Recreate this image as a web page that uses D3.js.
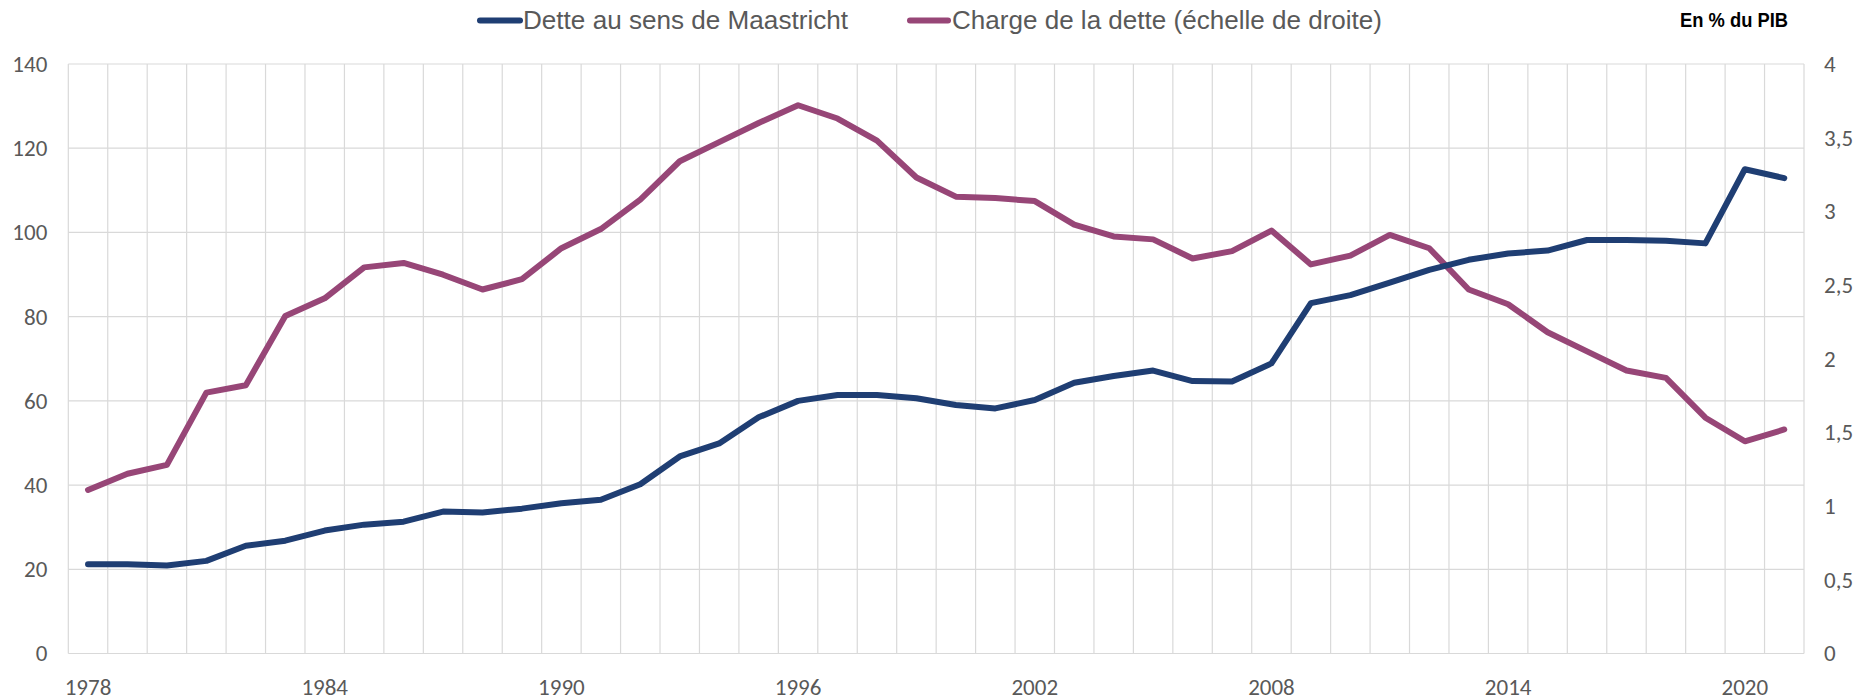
<!DOCTYPE html>
<html>
<head>
<meta charset="utf-8">
<script src="https://cdn.jsdelivr.net/npm/d3@7"></script>
<style>
  body { margin: 0; background: #fff; }
  .tick text { font-family: Carlito, Calibri, Lato, sans-serif; font-size: 23px; fill: #595959; }
</style>
</head>
<body>
<div id="chart"></div>
<script>
const width = 1870;
const height = 700;

// data (en % du PIB)
const years = d3.range(1978, 2022);
const detteMaastricht = [
    21.2, 21.2, 20.9, 22.0, 25.6, 26.8, 29.2, 30.6, 31.3, 33.7,
    33.5, 34.4, 35.7, 36.5, 40.2, 46.8, 49.9, 56.1, 60.0, 61.4,
    61.4, 60.6, 59.0, 58.2, 60.2, 64.3, 65.9, 67.2, 64.7, 64.6,
    68.9, 83.2, 85.1, 88.1, 91.1, 93.5, 95.0, 95.7, 98.2, 98.2,
    98.0, 97.4, 115.0, 112.9
];
const chargeDette = [
    1.11, 1.22, 1.28, 1.77, 1.82, 2.29, 2.41, 2.62, 2.65, 2.57,
    2.47, 2.54, 2.75, 2.88, 3.08, 3.34, 3.47, 3.60, 3.72, 3.63,
    3.48, 3.23, 3.10, 3.09, 3.07, 2.91, 2.83, 2.81, 2.68, 2.73,
    2.87, 2.64, 2.70, 2.84, 2.75, 2.47, 2.37, 2.18, 2.05, 1.92,
    1.87, 1.60, 1.44, 1.52
];
const leftTicks = [0, 20, 40, 60, 80, 100, 120, 140];
const rightTicks = [0, 0.5, 1, 1.5, 2, 2.5, 3, 3.5, 4];
const yearLabels = [1978, 1984, 1990, 1996, 2002, 2008, 2014, 2020];
const seriesNames = ["Dette au sens de Maastricht", "Charge de la dette (échelle de droite)"];

const blue = "#1f3e73";
const purple = "#974677";
const gridColor = "#d9d9d9";

const plot = { left: 68.3, right: 1804, top: 64, bottom: 653.5 };

const svg = d3.select("#chart")
    .append("svg")
    .attr("width", width)
    .attr("height", height);

const x = d3.scaleBand()
    .domain(years)
    .range([plot.left, plot.right])
    .padding(0);

const yLeft = d3.scaleLinear().domain([0, 140]).range([plot.bottom, plot.top]);
const yRight = d3.scaleLinear().domain([0, 4]).range([plot.bottom, plot.top]);

const cx = d => x(d) + x.bandwidth() / 2;

// grid: vertical lines at category boundaries
const grid = svg.append("g").attr("stroke", gridColor).attr("stroke-width", 1.2);
grid.selectAll(".vgrid")
    .data(years.map(y => x(y)).concat([plot.right]))
    .enter()
    .append("line")
    .attr("x1", d => d).attr("x2", d => d)
    .attr("y1", plot.top).attr("y2", plot.bottom);

grid.selectAll(".hgrid")
    .data(leftTicks)
    .enter()
    .append("line")
    .attr("x1", plot.left).attr("x2", plot.right)
    .attr("y1", d => yLeft(d)).attr("y2", d => yLeft(d));

// axes
svg.append("g")
    .attr("transform", `translate(${plot.left},0)`)
    .call(d3.axisLeft(yLeft).tickValues(leftTicks).tickSize(0).tickPadding(21))
    .call(g => g.select(".domain").remove());

svg.append("g")
    .attr("transform", `translate(${plot.right},0)`)
    .call(d3.axisRight(yRight).tickValues(rightTicks).tickSize(0).tickPadding(20)
        .tickFormat(d => String(d).replace(".", ",")))
    .call(g => g.select(".domain").remove());

svg.append("g")
    .attr("transform", `translate(0,${plot.bottom})`)
    .call(d3.axisBottom(x).tickValues(yearLabels).tickSize(0).tickPadding(25))
    .call(g => g.select(".domain").remove());

// lines
const lineLeft = d3.line()
    .x((d, i) => cx(years[i]))
    .y(d => yLeft(d));

const lineRight = d3.line()
    .x((d, i) => cx(years[i]))
    .y(d => yRight(d));

svg.append("path")
    .datum(chargeDette)
    .attr("d", lineRight)
    .attr("fill", "none")
    .attr("stroke", purple)
    .attr("stroke-width", 6)
    .attr("stroke-linejoin", "round")
    .attr("stroke-linecap", "round");

svg.append("path")
    .datum(detteMaastricht)
    .attr("d", lineLeft)
    .attr("fill", "none")
    .attr("stroke", blue)
    .attr("stroke-width", 6)
    .attr("stroke-linejoin", "round")
    .attr("stroke-linecap", "round");

// legend
const legendItems = [
    { name: seriesNames[0], color: blue, x1: 480, x2: 520, tx: 523, len: 325 },
    { name: seriesNames[1], color: purple, x1: 910, x2: 948, tx: 952, len: 430 }
];

const legend = svg.selectAll(".legend")
    .data(legendItems)
    .enter()
    .append("g")
    .attr("class", "legend");

legend.append("line")
    .attr("x1", d => d.x1).attr("x2", d => d.x2)
    .attr("y1", 20.5).attr("y2", 20.5)
    .attr("stroke", d => d.color)
    .attr("stroke-width", 6)
    .attr("stroke-linecap", "round");

legend.append("text")
    .attr("x", d => d.tx)
    .attr("y", 29)
    .attr("textLength", d => d.len)
    .attr("lengthAdjust", "spacingAndGlyphs")
    .style("font-family", "'Liberation Sans', Arial, sans-serif")
    .style("font-size", "26px")
    .style("fill", "#595959")
    .text(d => d.name);

svg.append("text")
    .attr("x", 1680)
    .attr("y", 27)
    .attr("textLength", 108)
    .attr("lengthAdjust", "spacingAndGlyphs")
    .style("font-family", "'Liberation Sans Narrow', 'Liberation Sans', Arial, sans-serif")
    .style("font-weight", "bold")
    .style("font-size", "20px")
    .style("fill", "#000")
    .text("En % du PIB");
</script>
</body>
</html>
